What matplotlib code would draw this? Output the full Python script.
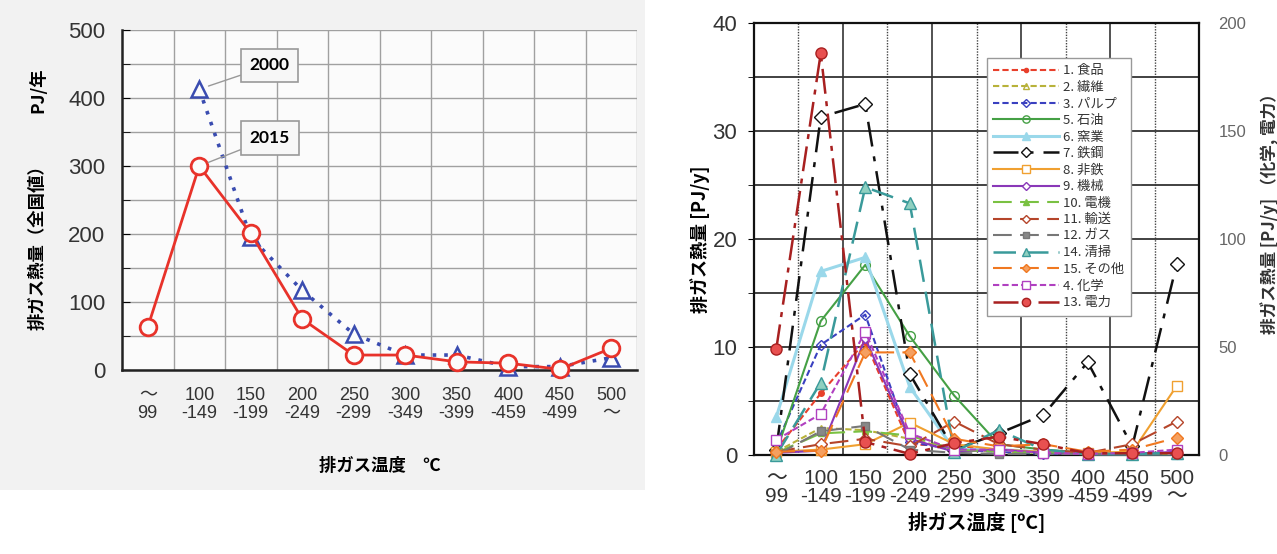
import numpy as np
import matplotlib.pyplot as plt
from matplotlib.patches import Rectangle

plt.rcParams['font.family'] = ['Liberation Sans', 'Noto Sans CJK JP']
JP = ['Noto Sans CJK JP', 'DejaVu Sans']

# ---- データ ----
temp_labels = ['～\n99', '100\n-149', '150\n-199', '200\n-249', '250\n-299',
               '300\n-349', '350\n-399', '400\n-459', '450\n-499', '500\n～']

# 左図: 全国値 (PJ/年)
heat_2015 = [63, 300, 201, 75, 22, 22, 12, 10, 1, 32]
heat_2000 = [np.nan, 413, 195, 117, 53, 22, 22, 5, 5, 18]

# 右図: 業種別 (PJ/y)
shokuhin = [0.5, 5.7, 10.5, 1.0, 0.8, 0.5, 0.3, 0.1, 0.1, 0.2]
seni = [0.3, 2.5, 2.3, 1.5, 0.5, 0.3, 0.2, 0.1, 0.1, 0.1]
parupu = [1.0, 10.2, 13.0, 1.2, 0.5, 0.3, 0.1, 0.1, 0.1, 0.2]
sekiyu = [0.3, 12.4, 17.6, 11.0, 5.5, 1.0, 0.5, 0.2, 0.1, 0.1]
yogyo = [3.5, 17.0, 18.3, 6.3, 0.5, 0.5, 0.3, 0.1, 0.1, 0.1]
tekko = [0.5, 31.3, 32.5, 7.5, 0.5, 2.0, 3.7, 8.6, 0.8, 17.7]
hitetsu = [0.3, 0.5, 1.0, 3.0, 1.0, 0.5, 0.3, 0.2, 0.3, 6.4]
kikai = [0.2, 0.4, 10.8, 1.5, 0.3, 0.5, 0.2, 0.1, 0.1, 0.3]
denki = [0.2, 2.0, 2.2, 1.8, 0.5, 0.3, 0.2, 0.1, 0.1, 0.1]
yuso = [0.3, 1.0, 1.5, 0.8, 3.1, 1.0, 0.5, 0.2, 1.0, 3.1]
gasu = [0.0, 2.2, 2.7, 0.5, 0.2, 0.1, 0.1, 0.1, 0.1, 0.1]
seiso = [0.0, 6.7, 24.8, 23.3, 0.3, 2.3, 0.5, 0.1, 0.1, 0.2]
sonota = [0.3, 0.4, 9.5, 9.5, 1.5, 0.8, 1.0, 0.3, 0.5, 1.6]
# 右軸 (化学, 電力)
kagaku = [7, 19, 57, 10, 2.5, 2.5, 1, 0.5, 1, 2.5]
denryoku = [49, 186, 6, 0.5, 5.5, 8.5, 5, 0.8, 0.8, 0.8]

left_series = [('1. 食品', shokuhin), ('2. 繊維', seni), ('3. パルプ', parupu),
               ('5. 石油', sekiyu), ('6. 窯業', yogyo), ('7. 鉄鋼', tekko),
               ('8. 非鉄', hitetsu), ('9. 機械', kikai), ('10. 電機', denki),
               ('11. 輸送', yuso), ('12. ガス', gasu), ('14. 清掃', seiso),
               ('15. その他', sonota)]
right_series = [('4. 化学', kagaku), ('13. 電力', denryoku)]

# 線種・色・マーカー
SD = (0, (3, 1.5))
LD = (0, (9, 4))
styles = {
    '1. 食品': dict(color='#e8402c', ls=SD, marker='o', mfc='#e8402c', ms=4),
    '2. 繊維': dict(color='#b8b23a', ls=SD, marker='^', mfc='none', ms=5),
    '3. パルプ': dict(color='#3a40c0', ls=SD, marker='D', mfc='none', ms=5),
    '5. 石油': dict(color='#45a045', ls='-', marker='o', mfc='none', ms=7),
    '6. 窯業': dict(color='#9ad8ea', ls='-', lw=2.2, marker='^', mfc='#9ad8ea', ms=7),
    '7. 鉄鋼': dict(color='#111111', ls=(0, (10, 4, 2, 4)), lw=1.8, marker='D', mfc='white', ms=7),
    '8. 非鉄': dict(color='#f0a030', ls='-', marker='s', mfc='white', ms=7),
    '9. 機械': dict(color='#8a38b8', ls='-', marker='D', mfc='white', ms=5),
    '10. 電機': dict(color='#7ac142', ls=LD, marker='^', mfc='#7ac142', ms=5),
    '11. 輸送': dict(color='#b5452a', ls=LD, marker='D', mfc='white', ms=6),
    '12. ガス': dict(color='#777777', ls=LD, marker='s', mfc='#888888', ms=6),
    '14. 清掃': dict(color='#3a9a9a', ls=LD, lw=1.8, marker='^', mfc='#8fd0c0', ms=8),
    '15. その他': dict(color='#f07820', ls=LD, marker='D', mfc='#f5a060', ms=6),
    '4. 化学': dict(color='#b040c0', ls=SD, marker='s', mfc='white', ms=7),
    '13. 電力': dict(color='#a82020', ls=(0, (10, 3, 2, 3)), lw=1.8, marker='o', mfc='#e85050', ms=8),
}
legend_order = ['1. 食品', '2. 繊維', '3. パルプ', '5. 石油', '6. 窯業', '7. 鉄鋼', '8. 非鉄',
                '9. 機械', '10. 電機', '11. 輸送', '12. ガス', '14. 清掃', '15. その他',
                '4. 化学', '13. 電力']

W, H = 1277, 554
fig = plt.figure(figsize=(W / 100, H / 100), dpi=100)
fig.patches.append(Rectangle((0, 1 - 490 / H), 645 / W, 490 / H, transform=fig.transFigure,
                             facecolor='#f2f2f2', edgecolor='none', zorder=-10))

# ---- 左図 ----
ax = fig.add_axes([122 / W, 1 - 370 / H, 515 / W, 340 / H])
ax.set_facecolor('#fbfbfb')
x = np.arange(len(temp_labels))
ax.set_xlim(-0.5, len(x) - 0.5)
ax.set_ylim(0, 500)
for b in np.arange(-0.5, len(x), 1.0)[1:]:
    ax.axvline(b, color='#a0a0a0', lw=1, zorder=1)
ax.set_yticks(range(0, 501, 100))
ax.set_yticks(range(50, 500, 100), minor=True)
ax.grid(axis='y', which='both', color='#a0a0a0', lw=1, zorder=1)
ax.set_xticks(x, temp_labels, fontsize=13, color='#333333', linespacing=1.1)
ax.tick_params(axis='x', length=0, pad=12)
ax.tick_params(axis='y', which='both', direction='in', length=6, labelsize=16,
               labelcolor='#333333', pad=12)
for s in ['top', 'right']:
    ax.spines[s].set_visible(False)
for s in ['left', 'bottom']:
    ax.spines[s].set_color('#222222')
    ax.spines[s].set_linewidth(1.8)

ax.plot(x, heat_2000, color='#3a4cb0', ls=(0, (1, 2.2)), lw=2.6, marker='^', ms=11,
        mfc='#fbfbfb', mec='#3a4cb0', mew=1.8, zorder=3, clip_on=False)
ax.plot(x, heat_2015, color='#e8322a', ls='-', lw=2, marker='o', ms=12,
        mfc='#fbfbfb', mec='#e8322a', mew=2, zorder=4, clip_on=False)

box = dict(boxstyle='square,pad=0.5', fc='#f7f7f7', ec='#999999', lw=1.2)
ax.annotate('2000', xy=(x[1], heat_2000[1]), xytext=(2.37, 448), fontsize=12.5,
            fontweight='bold', family='Lato', ha='center', va='center', bbox=box,
            arrowprops=dict(arrowstyle='-', color='#999999', lw=1, shrinkA=0, shrinkB=7),
            zorder=5)
ax.annotate('2015', xy=(x[1], heat_2015[1]), xytext=(2.37, 341), fontsize=12.5,
            fontweight='bold', family='Lato', ha='center', va='center', bbox=box,
            arrowprops=dict(arrowstyle='-', color='#999999', lw=1, shrinkA=0, shrinkB=7),
            zorder=5)

fig.text(38 / W, 1 - 243 / H, '排ガス熱量（全国値）', rotation=90, ha='center', va='center',
         fontsize=12.5, fontweight='bold', family=JP)
fig.text(38 / W, 1 - 90 / H, 'PJ/年', rotation=90, ha='center', va='center',
         fontsize=12.5, fontweight='bold', family=JP)
fig.text(380 / W, 1 - 466 / H, '排ガス温度　℃', ha='center', va='center',
         fontsize=12.5, fontweight='bold', family=JP)

# ---- 右図 ----
ax2 = fig.add_axes([754 / W, 1 - 455 / H, 445 / W, 432 / H])
ax2.set_xlim(-0.5, len(x) - 0.5)
ax2.set_ylim(0, 40)
ax2.set_yticks(range(0, 41, 10))
ax2.set_yticks(range(5, 40, 10), minor=True)
ax2.grid(axis='y', which='both', color='#333333', lw=1.3, zorder=1)
for i, b in enumerate(np.arange(-0.5, len(x), 1.0)[1:-1]):
    ax2.axvline(b, color='#444444', lw=1.3 if i % 2 else 1.0,
                ls='-' if i % 2 else (0, (1, 1)), zorder=1)
ax2.set_xticks(x, temp_labels, fontsize=15, color='#333333', linespacing=0.95)
ax2.tick_params(axis='x', length=0, pad=10)
ax2.tick_params(axis='y', which='both', direction='out', length=4, labelsize=16,
                labelcolor='#333333', pad=8)
for s in ax2.spines.values():
    s.set_color('#111111')
    s.set_linewidth(1.6)
ax2.set_ylabel('排ガス熱量 [PJ/y]', fontsize=13, fontweight='bold', family=JP, labelpad=2)
ax2.set_xlabel('排ガス温度 [ºC]', fontsize=14, fontweight='bold', family=JP, labelpad=4)

ax3 = ax2.twinx()
ax3.set_ylim(0, 200)
ax3.set_yticks(range(0, 201, 50))
ax3.tick_params(axis='y', length=0, labelsize=12, labelcolor='#666666', pad=14)
for s in ax3.spines.values():
    s.set_visible(False)

handles = {}
for name, vals in left_series:
    st = dict(styles[name])
    handles[name], = ax2.plot(x, vals, label=name, lw=st.pop('lw', 1.5), mec=st['color'],
                              zorder=3, clip_on=False, **st)
for name, vals in right_series:
    st = dict(styles[name])
    handles[name], = ax3.plot(x, vals, label=name, lw=st.pop('lw', 1.5), mec=st['color'],
                              zorder=3, clip_on=False, **st)

leg = ax3.legend([handles[n] for n in legend_order], legend_order, loc='upper left',
                 bbox_to_anchor=(0.508, 0.935), prop=dict(family=JP, size=9.5),
                 handlelength=5.0, labelspacing=0.27, borderpad=0.5, handletextpad=0.3,
                 fancybox=False, framealpha=1, edgecolor='#999999', markerscale=0.75)
leg.get_frame().set_linewidth(1)
for t in leg.get_texts():
    t.set_color('#333333')

fig.text(1270 / W, 1 - 210 / H, '排ガス熱量 [PJ/y] （化学, 電力）', rotation=90,
         ha='center', va='center', fontsize=12, fontweight='bold', color='#333333', family=JP)

fig.savefig('out.png', dpi=100)
